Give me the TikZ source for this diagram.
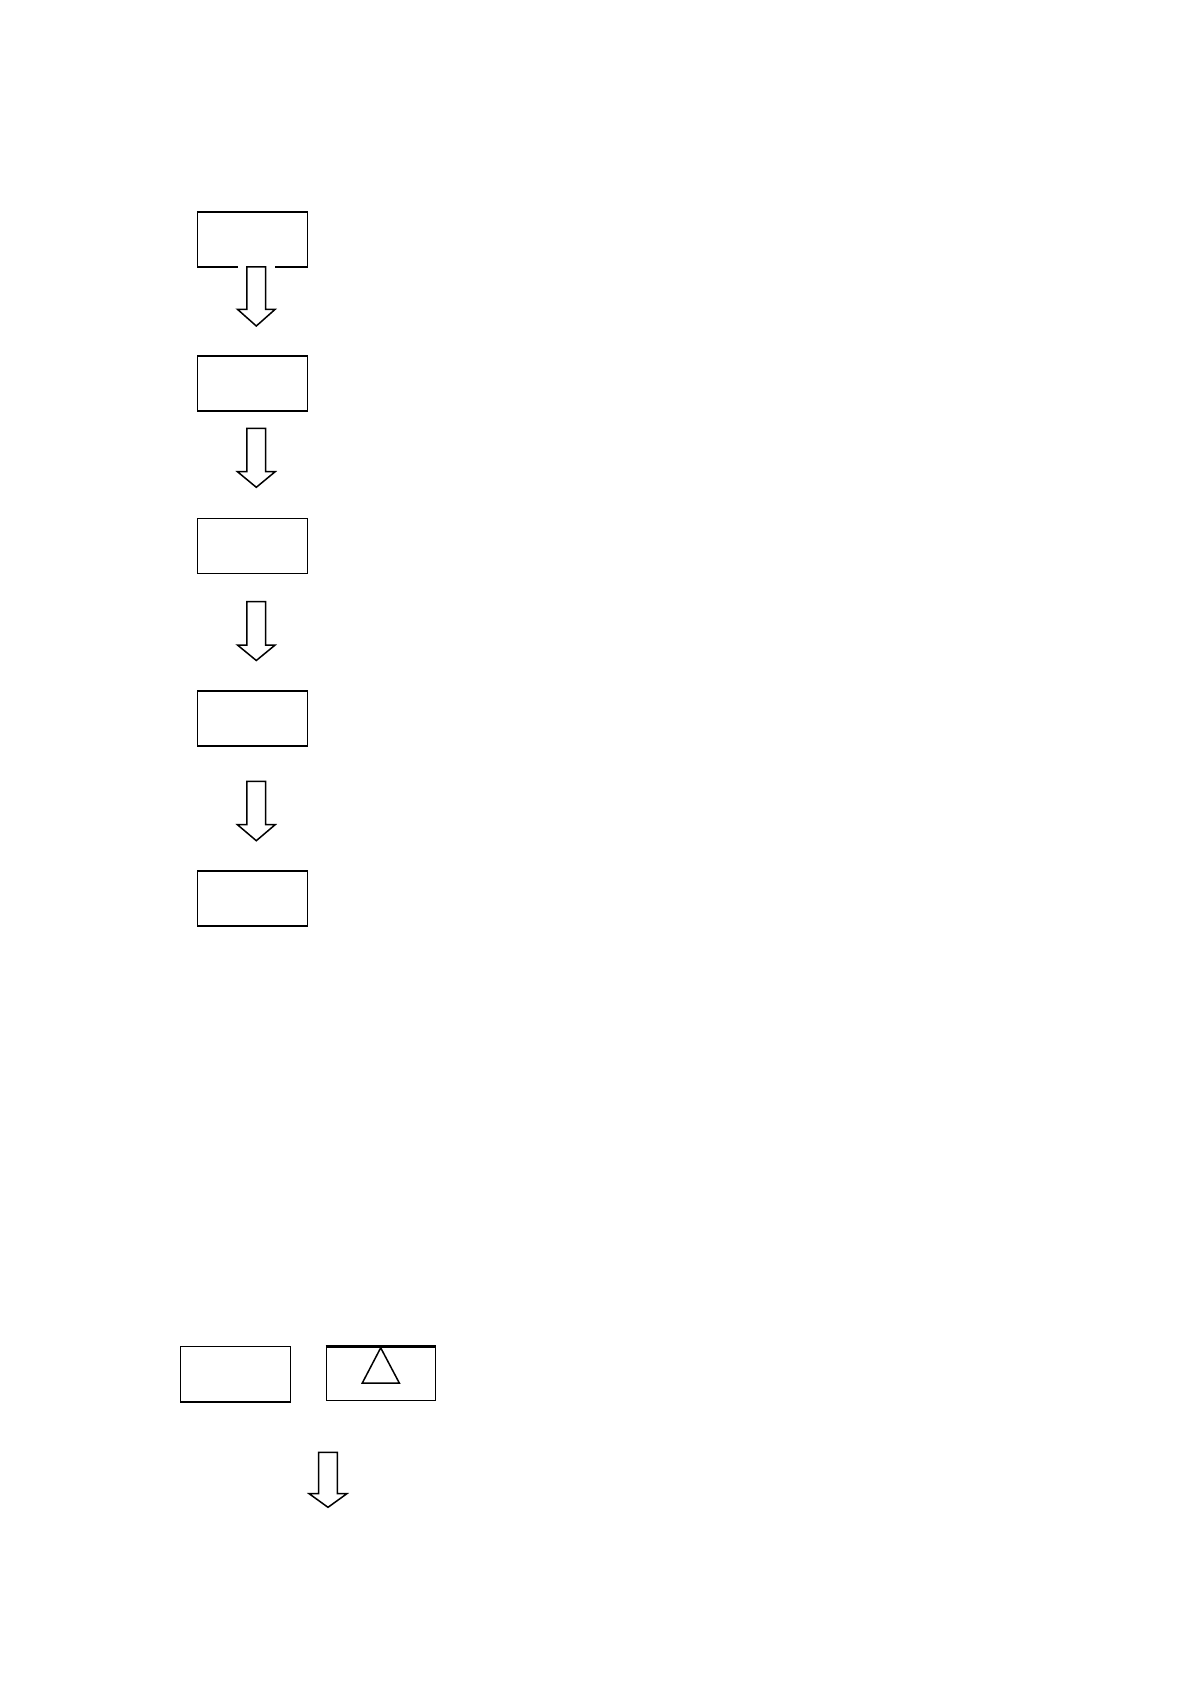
\documentclass[tikz,border=0pt]{standalone}
\usetikzlibrary{calc}
\tikzset{
  box/.style={draw, line width=0.75pt, fill=white, inner sep=0pt, minimum width=55pt, minimum height=27.5pt},
  blk/.style={draw, line width=0.75pt, fill=white, line join=miter},
}
% block arrow: centre x, top y, head-start y, tip y (pixel units)
\newcommand\blockarrow[5]{%
  \coordinate (#1-top) at (#2,#3);
  \coordinate (#1-tip) at (#2,#5);
  \draw[blk] ($(#1-top)+(-9.35,0)$) -- ($(#1-top)+(9.35,0)$) -- (#2+9.35,#4) -- (#2+18.85,#4)
    -- (#1-tip) -- (#2-18.85,#4) -- (#2-9.35,#4) -- cycle;
}
\begin{document}
\begin{tikzpicture}[x=0.5pt,y=-0.5pt]
\useasboundingbox (0,0) rectangle (1190,1684);
% column of boxes
\node[box] (b1) at (252.3,239.7) {};
\node[box] (b2) at (252.3,383.7) {};
\node[box] (b3) at (252.3,545.8) {};
\node[box] (b4) at (252.3,718.7) {};
\node[box] (b5) at (252.3,898.7) {};
% gap in the first box's bottom edge under the arrow
\fill[white] ($(b1.south)+(-14.3,-1.5)$) rectangle ($(b1.south)+(22.7,2)$);
\blockarrow{a1}{256.3}{267}{309.3}{326}
\blockarrow{a2}{256.3}{428.3}{471.7}{487.3}
\blockarrow{a3}{256.3}{601.5}{645}{660.5}
\blockarrow{a4}{256.3}{781.3}{824.7}{840.7}
% bottom row
\node[box, minimum width=55pt, minimum height=27.8pt] (c1) at (235.3,1374.2) {};
\node[box, minimum width=54.5pt, minimum height=26.5pt] (c2) at (380.8,1373.8) {};
\draw[line width=1.2pt] (c2.north west) -- (c2.north east);
\draw[line width=0.75pt, line join=miter] (380.7,1347.8) -- (399.3,1383) -- (362.3,1383) -- cycle;
\blockarrow{a5}{328}{1452.3}{1493.7}{1507.3}
\end{tikzpicture}
\end{document}
